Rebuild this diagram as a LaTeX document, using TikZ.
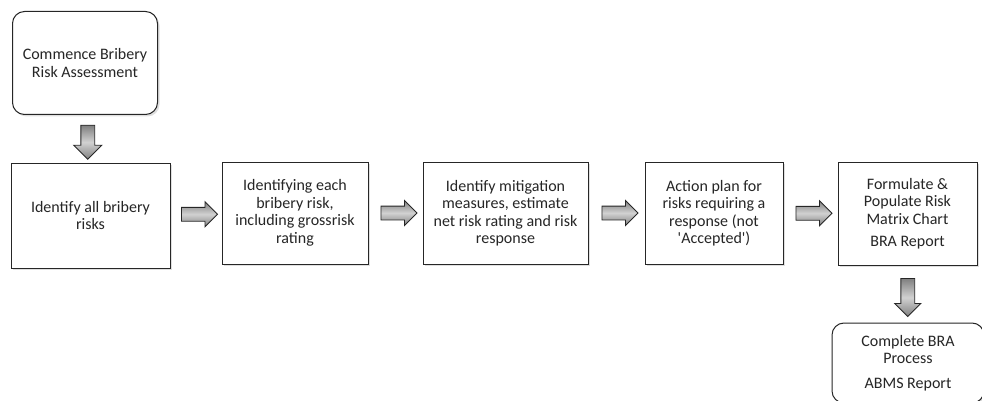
\documentclass[tikz,border=0pt]{standalone}
\usepackage{fontspec}
\setmainfont{Carlito}
\usetikzlibrary{arrows.meta,positioning,shapes.arrows,calc,shadows}

\begin{document}
\begin{tikzpicture}[
  x=1pt,y=-1pt,
  box/.style={draw=black!85,line width=1pt,fill=white,align=center,
    text=black!85,font=\fontsize{16}{17.5}\selectfont,inner sep=2pt,
    drop shadow={shadow xshift=2pt,shadow yshift=-2pt,opacity=0.25}},
  startbox/.style={box,rounded corners=12pt},
  blockarr/.style={single arrow,draw=black!85,line width=0.9pt,
    top color=black!50,bottom color=black!50,middle color=black!18,
    inner xsep=0pt,inner ysep=6.5pt,single arrow head extend=5.5pt,
    minimum height=36pt}
]
  \useasboundingbox (0,0) rectangle (982,401);
  \clip (0,0) rectangle (982,401);
  \node[startbox,minimum width=145pt,minimum height=103pt] (start) at (85,63)
    {Commence Bribery\\Risk Assessment};
  \node[box,minimum width=159pt,minimum height=105pt] (ident) at (90.5,215.5)
    {Identify all bribery\\risks};
  \node[box,minimum width=146pt,minimum height=102pt] (each) at (295,213)
    {Identifying each\\bribery risk,\\including grossrisk\\rating};
  \node[box,minimum width=165pt,minimum height=102pt] (mitig) at (505.5,213)
    {Identify mitigation\\measures, estimate\\net risk rating and risk\\response};
  \node[box,minimum width=138pt,minimum height=102pt] (plan) at (714,213)
    {Action plan for\\risks requiring a\\response (not\\\textquotesingle Accepted\textquotesingle)};
  \node[box,minimum width=139pt,minimum height=103pt] (matrix) at (907.5,213.5)
    {Formulate \&\\Populate Risk\\Matrix Chart\\[5pt]BRA Report};
  \node[startbox,minimum width=152pt,minimum height=80pt] (done) at (908,363)
    {Complete BRA\\Process\\[7pt]ABMS Report};
  % Arrows
  \node[blockarr,rotate=-90,minimum height=34pt,single arrow head extend=7pt]
    (a0) at ($(start.south)!0.5!(ident.north)$) {};
  \node[blockarr] (a1) at ($(ident.east)!0.5!(each.west)$) {};
  \node[blockarr] (a2) at ($(each.east)!0.5!(mitig.west)$) {};
  \node[blockarr] (a3) at ($(mitig.east)!0.5!(plan.west)$) {};
  \node[blockarr] (a4) at ($(plan.east)!0.5!(matrix.west)$) {};
  \node[blockarr,rotate=-90,minimum height=38pt,single arrow head extend=6pt]
    (a5) at ($(matrix.south)!0.5!(done.north)$) {};
\end{tikzpicture}
\end{document}
